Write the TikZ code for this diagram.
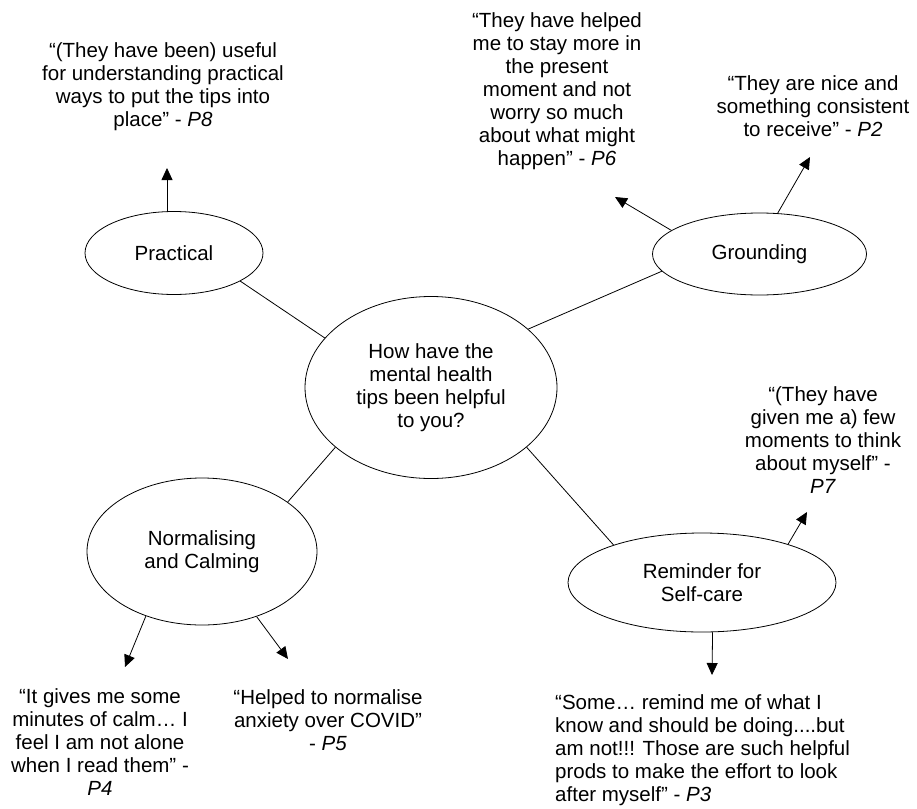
\documentclass[tikz,border=0pt]{standalone}
\usepackage{fontspec}
\setmainfont{Liberation Sans}
\usetikzlibrary{shapes.geometric,arrows.meta}
\tikzset{
    theme/.style={draw, ellipse, inner sep=0pt, line width=0.8pt, align=center},
    quote/.style={align=center, inner sep=0pt},
    link/.style={line width=0.8pt},
    pointer/.style={line width=0.8pt, -{Triangle[length=12pt,width=11pt]}}
}
\begin{document}
\begin{tikzpicture}[x=1pt, y=-1pt, font=\fontsize{20.5}{23}\selectfont]
    \useasboundingbox (0,0) rectangle (917,808);
    % Question in the middle
    \node[theme, minimum width=252pt, minimum height=182pt] (q) at (431,387.5) {How have the\\mental health\\tips been helpful\\to you?};
    % Themes
    \node[theme, minimum width=178pt, minimum height=83pt] (prac) at (174,253) {Practical};
    \node[theme, minimum width=214pt, minimum height=82pt] (ground) at (759.5,254) {Grounding};
    \node[theme, minimum width=230pt, minimum height=147pt] (norm) at (202,551.5) {Normalising\\and Calming};
    \node[theme, minimum width=268pt, minimum height=99pt] (self) at (702,582.5) {Reminder for\\Self-care};
    % Theme to question
    \draw[link] (prac.-23) -- (q.155);
    \draw[link] (ground.190) -- (q.31);
    \draw[link] (norm.30) -- (q.-148);
    \draw[link] (self.157) -- (q.-32);
    % Quotes
    \node[quote] (p8) at (163,86.5) {“(They have been) useful\\for understanding practical\\ways to put the tips into\\place” - \textit{P8}};
    \node[quote] (p6) at (557,91) {“They have helped\\me to stay more in\\the present\\moment and not\\worry so much\\about what might\\happen” - \textit{P6}};
    \node[quote] (p2) at (813,106.5) {“They are nice and\\something consistent\\to receive” - \textit{P2}};
    \node[quote] (p7) at (823,440) {“(They have\\given me a) few\\moments to think\\about myself” -\\\textit{P7}};
    \node[quote] (p4) at (100,742) {“It gives me some\\minutes of calm… I\\feel I am not alone\\when I read them” -\\\textit{P4}};
    \node[quote] (p5) at (328,720) {“Helped to normalise\\anxiety over COVID”\\- \textit{P5}};
    \node[quote, anchor=west, align=left] (p3) at (555,750) {“Some… remind me of what I\\know and should be doing....but\\am not!!! Those are such helpful\\prods to make the effort to look\\after myself” - \textit{P3}};
    % Arrow tips
    \coordinate (t8) at (167,168);
    \coordinate (t6) at (615,197);
    \coordinate (t2) at (810,157);
    \coordinate (t7) at (807,512);
    \coordinate (t4) at (125,667);
    \coordinate (t5) at (288,659);
    \coordinate (t3) at (712,675);
    % Theme to quote
    \draw[pointer] (prac.north -| t8) -- (t8);
    \draw[pointer] (ground.165) -- (t6);
    \draw[pointer] (ground.66) -- (t2);
    \draw[pointer] (self.24) -- (t7);
    \draw[pointer] (norm.-131.5) -- (t4);
    \draw[pointer] (norm.-50) -- (t5);
    \draw[pointer] (self.-78.6) -- (t3);
\end{tikzpicture}
\end{document}
